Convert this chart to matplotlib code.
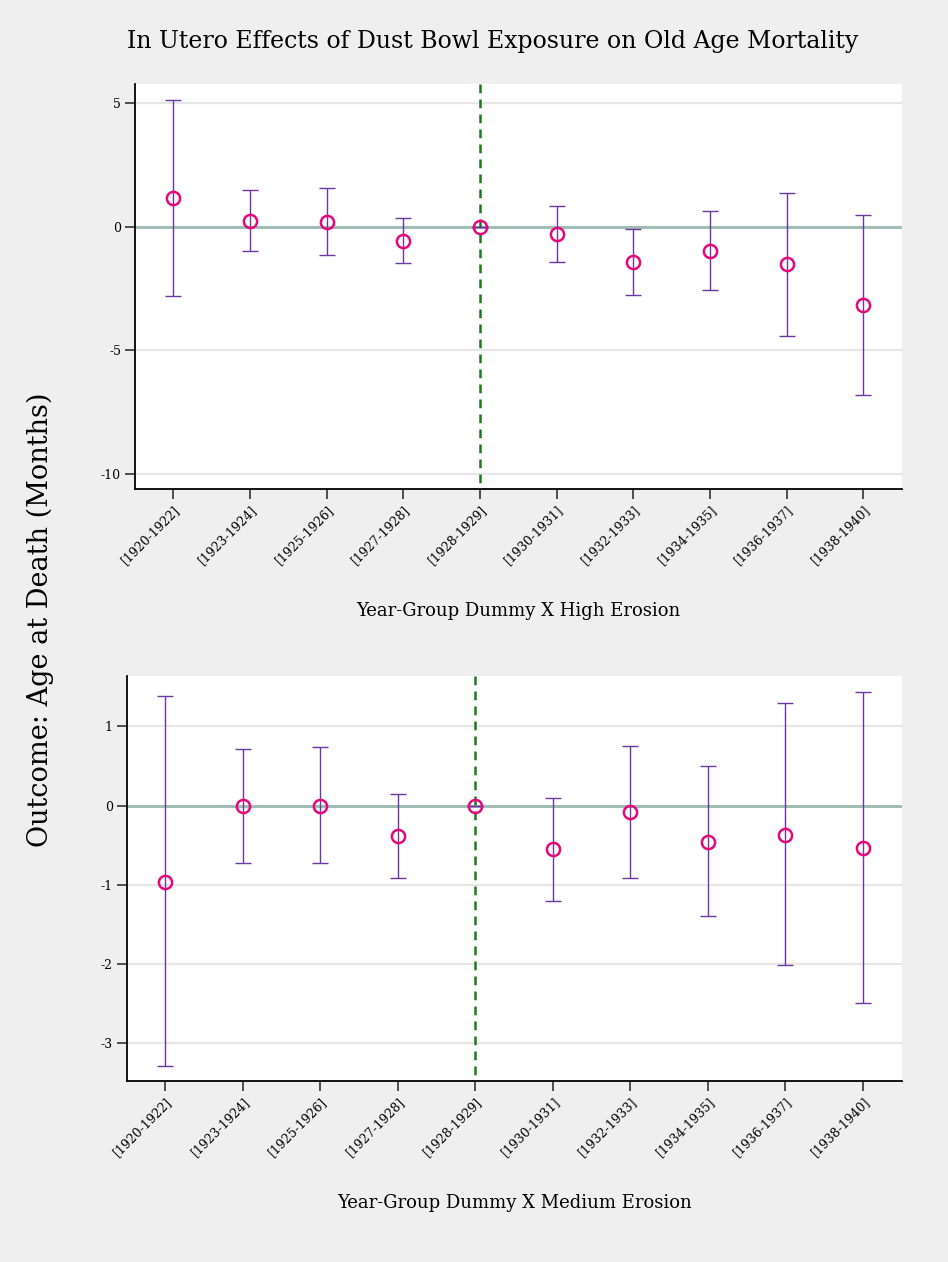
import numpy as np
import matplotlib

matplotlib.use('Agg')
import matplotlib.pyplot as plt

# year groups used as event-study dummies (1928-1929 is the omitted group)
groups = ['[1920-1922]', '[1923-1924]', '[1925-1926]', '[1927-1928]', '[1928-1929]',
          '[1930-1931]', '[1932-1933]', '[1934-1935]', '[1936-1937]', '[1938-1940]']

# high erosion: point estimate and 95% CI bounds
high_coef = [1.16, 0.26, 0.21, -0.55, 0.0, -0.27, -1.42, -0.97, -1.50, -3.16]
high_lo = [-2.81, -0.97, -1.15, -1.44, 0.0, -1.40, -2.74, -2.56, -4.41, -6.79]
high_hi = [5.15, 1.49, 1.59, 0.36, 0.0, 0.85, -0.09, 0.64, 1.39, 0.49]

# medium erosion
med_coef = [-0.96, -0.01, 0.00, -0.39, 0.0, -0.55, -0.08, -0.46, -0.37, -0.54]
med_lo = [-3.29, -0.73, -0.73, -0.92, 0.0, -1.20, -0.92, -1.40, -2.02, -2.50]
med_hi = [1.38, 0.72, 0.74, 0.15, 0.0, 0.10, 0.75, 0.50, 1.29, 1.44]

bg = '#efefef'
plt.rcParams['font.family'] = 'DejaVu Serif'

fig = plt.figure(figsize=(9.48, 12.62), dpi=100)
fig.patch.set_facecolor(bg)


def coef_panel(ax, coef, lo, hi, yticks, ylim, xlabel):
    x = np.arange(1, len(coef) + 1)
    coef = np.array(coef)
    yerr = np.vstack([coef - np.array(lo), np.array(hi) - coef])
    ax.set_facecolor('white')
    for t in yticks:
        ax.axhline(t, color='#e6e6e6', lw=1.6, zorder=0)
    ax.axhline(0, color='#a2bdb5', lw=2.2, zorder=1)
    # dashed reference line at the omitted group, drawn top-down
    ax.plot([5, 5], [ylim[1], ylim[0]], color='#1c7a1c', lw=1.8,
            linestyle=(0, (3.5, 2.5)), zorder=2)
    ax.errorbar(x, coef, yerr=yerr, fmt='none', ecolor='#6b37a3',
                elinewidth=1.0, capsize=6, capthick=1.0, zorder=3)
    ax.plot(x, coef, 'o', ms=9.5, mfc='none', mec='#e5087a', mew=1.8, zorder=4)
    ax.set_xlim(0.5, 10.5)
    ax.set_ylim(*ylim)
    ax.set_yticks(yticks)
    ax.set_yticklabels(['%d' % t for t in yticks], fontsize=9)
    ax.set_xticks(x)
    ax.set_xticklabels(groups, rotation=45, ha='right', rotation_mode='anchor',
                       fontsize=9)
    ax.tick_params(axis='both', length=7, width=1.2, color='#333333', pad=3)
    for s in ['top', 'right']:
        ax.spines[s].set_visible(False)
    for s in ['left', 'bottom']:
        ax.spines[s].set_linewidth(1.3)
    ax.set_xlabel(xlabel, fontsize=13, labelpad=25)


ax1 = fig.add_axes([0.1424, 0.6123, 0.8088, 0.3212])
coef_panel(ax1, high_coef, high_lo, high_hi, [5, 0, -5, -10], (-10.62, 5.79),
           'Year-Group Dummy X High Erosion')

ax2 = fig.add_axes([0.1337, 0.1434, 0.8175, 0.3212])
coef_panel(ax2, med_coef, med_lo, med_hi, [1, 0, -1, -2, -3], (-3.48, 1.64),
           'Year-Group Dummy X Medium Erosion')

fig.text(0.52, 0.967, 'In Utero Effects of Dust Bowl Exposure on Old Age Mortality',
         ha='center', va='center', fontsize=17)
fig.text(0.042, 0.509, 'Outcome: Age at Death (Months)', rotation=90,
         ha='center', va='center', fontsize=19.5)

plt.savefig('out.png', dpi=100, facecolor=bg)
